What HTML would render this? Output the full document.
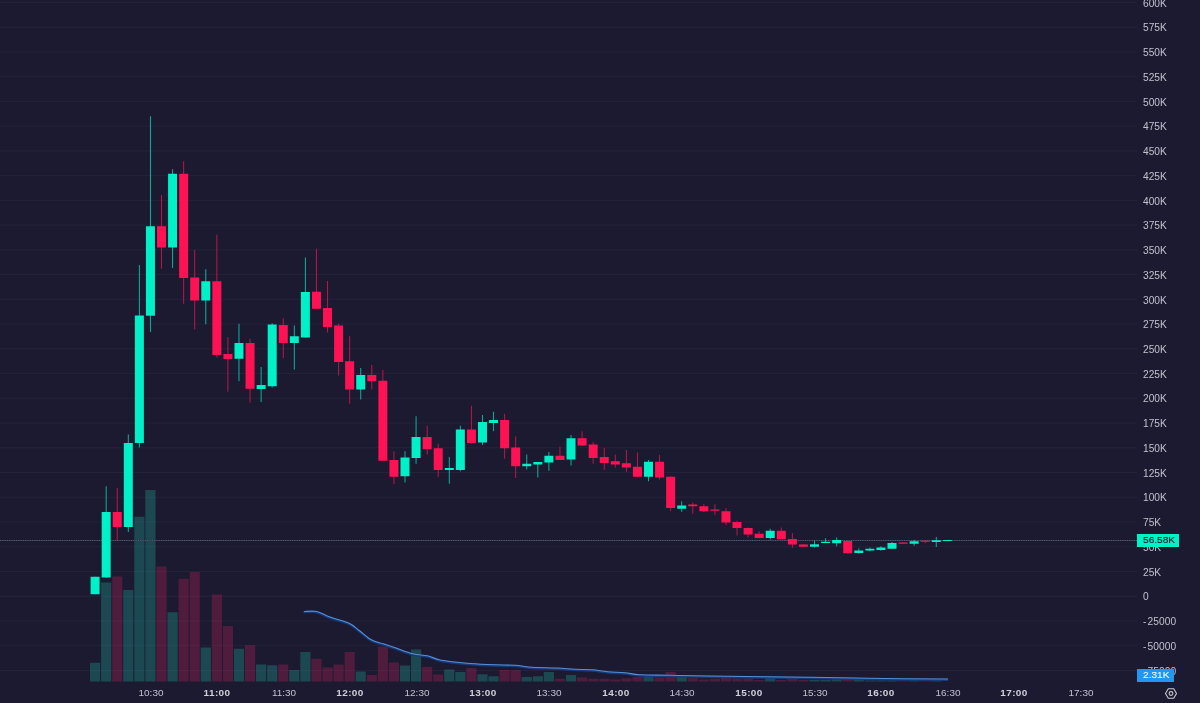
<!DOCTYPE html>
<html><head><meta charset="utf-8"><style>
html,body{margin:0;padding:0;background:#1b1a30;width:1200px;height:703px;overflow:hidden}
body{position:relative;font-family:"Liberation Sans",sans-serif}
svg{position:absolute;left:0;top:0}
.yl{position:absolute;left:1143px;font-size:10.2px;line-height:12px;color:#c0c2ce;white-space:nowrap;transform:scaleX(1.0);transform-origin:0 0;will-change:transform}
.xl{position:absolute;top:687.2px;width:60px;text-align:center;font-size:9.5px;line-height:12px;color:#c0c2ce;will-change:transform;transform:scaleX(1.05)}
.xl.b{font-weight:bold;color:#cfd0d8;letter-spacing:0.35px}
.badge{position:absolute;font-size:10px;line-height:13px;white-space:nowrap;text-align:center;will-change:transform}
</style></head><body>
<svg width="1200" height="703" viewBox="0 0 1200 703">
<rect x="0" y="595.7" width="1137" height="1" fill="#25233b"/>
<rect x="0" y="570.96" width="1137" height="1" fill="#25233b"/>
<rect x="0" y="546.22" width="1137" height="1" fill="#25233b"/>
<rect x="0" y="521.48" width="1137" height="1" fill="#25233b"/>
<rect x="0" y="496.74" width="1137" height="1" fill="#25233b"/>
<rect x="0" y="472" width="1137" height="1" fill="#25233b"/>
<rect x="0" y="447.26" width="1137" height="1" fill="#25233b"/>
<rect x="0" y="422.52" width="1137" height="1" fill="#25233b"/>
<rect x="0" y="397.78" width="1137" height="1" fill="#25233b"/>
<rect x="0" y="373.04" width="1137" height="1" fill="#25233b"/>
<rect x="0" y="348.3" width="1137" height="1" fill="#25233b"/>
<rect x="0" y="323.56" width="1137" height="1" fill="#25233b"/>
<rect x="0" y="298.82" width="1137" height="1" fill="#25233b"/>
<rect x="0" y="274.08" width="1137" height="1" fill="#25233b"/>
<rect x="0" y="249.34" width="1137" height="1" fill="#25233b"/>
<rect x="0" y="224.6" width="1137" height="1" fill="#25233b"/>
<rect x="0" y="199.86" width="1137" height="1" fill="#25233b"/>
<rect x="0" y="175.12" width="1137" height="1" fill="#25233b"/>
<rect x="0" y="150.38" width="1137" height="1" fill="#25233b"/>
<rect x="0" y="125.64" width="1137" height="1" fill="#25233b"/>
<rect x="0" y="100.9" width="1137" height="1" fill="#25233b"/>
<rect x="0" y="76.16" width="1137" height="1" fill="#25233b"/>
<rect x="0" y="51.42" width="1137" height="1" fill="#25233b"/>
<rect x="0" y="26.68" width="1137" height="1" fill="#25233b"/>
<rect x="0" y="1.94" width="1137" height="1" fill="#25233b"/>
<rect x="0" y="620.44" width="1137" height="1" fill="#25233b"/>
<rect x="0" y="645.18" width="1137" height="1" fill="#25233b"/>
<rect x="0" y="669.92" width="1137" height="1" fill="#25233b"/>
<rect x="90" y="662.75" width="10.2" height="18.75" fill="rgba(30,235,205,0.22)"/>
<rect x="101.07" y="582.5" width="10.2" height="99" fill="rgba(30,235,205,0.22)"/>
<rect x="112.14" y="576.5" width="10.2" height="105" fill="rgba(255,34,108,0.23)"/>
<rect x="123.2" y="590" width="10.2" height="91.5" fill="rgba(30,235,205,0.22)"/>
<rect x="134.27" y="516.75" width="10.2" height="164.75" fill="rgba(30,235,205,0.22)"/>
<rect x="145.34" y="490" width="10.2" height="191.5" fill="rgba(30,235,205,0.22)"/>
<rect x="156.41" y="566.5" width="10.2" height="115" fill="rgba(255,34,108,0.23)"/>
<rect x="167.48" y="612.25" width="10.2" height="69.25" fill="rgba(30,235,205,0.22)"/>
<rect x="178.54" y="578.75" width="10.2" height="102.75" fill="rgba(255,34,108,0.23)"/>
<rect x="189.61" y="572" width="10.2" height="109.5" fill="rgba(255,34,108,0.23)"/>
<rect x="200.68" y="647.5" width="10.2" height="34" fill="rgba(30,235,205,0.22)"/>
<rect x="211.75" y="594.5" width="10.2" height="87" fill="rgba(255,34,108,0.23)"/>
<rect x="222.82" y="626" width="10.2" height="55.5" fill="rgba(255,34,108,0.23)"/>
<rect x="233.88" y="648.75" width="10.2" height="32.75" fill="rgba(30,235,205,0.22)"/>
<rect x="244.95" y="645.25" width="10.2" height="36.25" fill="rgba(255,34,108,0.23)"/>
<rect x="256.02" y="664.5" width="10.2" height="17" fill="rgba(30,235,205,0.22)"/>
<rect x="267.09" y="665.25" width="10.2" height="16.25" fill="rgba(30,235,205,0.22)"/>
<rect x="278.16" y="664.5" width="10.2" height="17" fill="rgba(255,34,108,0.23)"/>
<rect x="289.22" y="670" width="10.2" height="11.5" fill="rgba(30,235,205,0.22)"/>
<rect x="300.29" y="652" width="10.2" height="29.5" fill="rgba(30,235,205,0.22)"/>
<rect x="311.36" y="658.75" width="10.2" height="22.75" fill="rgba(255,34,108,0.23)"/>
<rect x="322.43" y="667.5" width="10.2" height="14" fill="rgba(255,34,108,0.23)"/>
<rect x="333.5" y="664.5" width="10.2" height="17" fill="rgba(255,34,108,0.23)"/>
<rect x="344.56" y="652" width="10.2" height="29.5" fill="rgba(255,34,108,0.23)"/>
<rect x="355.63" y="671.5" width="10.2" height="10" fill="rgba(30,235,205,0.22)"/>
<rect x="366.7" y="675" width="10.2" height="6.5" fill="rgba(255,34,108,0.23)"/>
<rect x="377.77" y="646.5" width="10.2" height="35" fill="rgba(255,34,108,0.23)"/>
<rect x="388.84" y="662.5" width="10.2" height="19" fill="rgba(255,34,108,0.23)"/>
<rect x="399.9" y="665.5" width="10.2" height="16" fill="rgba(30,235,205,0.22)"/>
<rect x="410.97" y="649.5" width="10.2" height="32" fill="rgba(30,235,205,0.22)"/>
<rect x="422.04" y="667" width="10.2" height="14.5" fill="rgba(255,34,108,0.23)"/>
<rect x="433.11" y="674.5" width="10.2" height="7" fill="rgba(255,34,108,0.23)"/>
<rect x="444.18" y="669.5" width="10.2" height="12" fill="rgba(30,235,205,0.22)"/>
<rect x="455.24" y="672" width="10.2" height="9.5" fill="rgba(30,235,205,0.22)"/>
<rect x="466.31" y="668" width="10.2" height="13.5" fill="rgba(255,34,108,0.23)"/>
<rect x="477.38" y="674.25" width="10.2" height="7.25" fill="rgba(30,235,205,0.22)"/>
<rect x="488.45" y="676.25" width="10.2" height="5.25" fill="rgba(30,235,205,0.22)"/>
<rect x="499.52" y="670" width="10.2" height="11.5" fill="rgba(255,34,108,0.23)"/>
<rect x="510.58" y="670" width="10.2" height="11.5" fill="rgba(255,34,108,0.23)"/>
<rect x="521.65" y="677" width="10.2" height="4.5" fill="rgba(30,235,205,0.22)"/>
<rect x="532.72" y="676.25" width="10.2" height="5.25" fill="rgba(30,235,205,0.22)"/>
<rect x="543.79" y="672" width="10.2" height="9.5" fill="rgba(30,235,205,0.22)"/>
<rect x="554.86" y="678.75" width="10.2" height="2.75" fill="rgba(255,34,108,0.23)"/>
<rect x="565.92" y="675" width="10.2" height="6.5" fill="rgba(30,235,205,0.22)"/>
<rect x="576.99" y="677.5" width="10.2" height="4" fill="rgba(255,34,108,0.23)"/>
<rect x="588.06" y="678.75" width="10.2" height="2.75" fill="rgba(255,34,108,0.23)"/>
<rect x="599.13" y="678.75" width="10.2" height="2.75" fill="rgba(255,34,108,0.23)"/>
<rect x="610.2" y="679.5" width="10.2" height="2" fill="rgba(255,34,108,0.23)"/>
<rect x="621.26" y="678.25" width="10.2" height="3.25" fill="rgba(255,34,108,0.23)"/>
<rect x="632.33" y="677" width="10.2" height="4.5" fill="rgba(255,34,108,0.23)"/>
<rect x="643.4" y="676.25" width="10.2" height="5.25" fill="rgba(30,235,205,0.22)"/>
<rect x="654.47" y="677.5" width="10.2" height="4" fill="rgba(255,34,108,0.23)"/>
<rect x="665.54" y="672" width="10.2" height="9.5" fill="rgba(255,34,108,0.23)"/>
<rect x="676.6" y="675" width="10.2" height="6.5" fill="rgba(30,235,205,0.22)"/>
<rect x="687.67" y="678.25" width="10.2" height="3.25" fill="rgba(255,34,108,0.23)"/>
<rect x="698.74" y="679.5" width="10.2" height="2" fill="rgba(255,34,108,0.23)"/>
<rect x="709.81" y="678.75" width="10.2" height="2.75" fill="rgba(255,34,108,0.23)"/>
<rect x="720.88" y="678" width="10.2" height="3.5" fill="rgba(255,34,108,0.23)"/>
<rect x="731.94" y="678.75" width="10.2" height="2.75" fill="rgba(255,34,108,0.23)"/>
<rect x="743.01" y="678.25" width="10.2" height="3.25" fill="rgba(255,34,108,0.23)"/>
<rect x="754.08" y="680" width="10.2" height="1.5" fill="rgba(255,34,108,0.23)"/>
<rect x="765.15" y="677.5" width="10.2" height="4" fill="rgba(30,235,205,0.22)"/>
<rect x="776.22" y="680" width="10.2" height="1.5" fill="rgba(255,34,108,0.23)"/>
<rect x="787.28" y="678.75" width="10.2" height="2.75" fill="rgba(255,34,108,0.23)"/>
<rect x="798.35" y="680" width="10.2" height="1.5" fill="rgba(255,34,108,0.23)"/>
<rect x="809.42" y="680" width="10.2" height="1.5" fill="rgba(30,235,205,0.22)"/>
<rect x="820.49" y="680" width="10.2" height="1.5" fill="rgba(30,235,205,0.22)"/>
<rect x="831.56" y="679.5" width="10.2" height="2" fill="rgba(30,235,205,0.22)"/>
<rect x="842.62" y="679.25" width="10.2" height="2.25" fill="rgba(255,34,108,0.23)"/>
<rect x="853.69" y="680" width="10.2" height="1.5" fill="rgba(30,235,205,0.22)"/>
<rect x="864.76" y="680.5" width="10.2" height="1" fill="rgba(30,235,205,0.22)"/>
<rect x="875.83" y="680.5" width="10.2" height="1" fill="rgba(30,235,205,0.22)"/>
<rect x="886.9" y="680.5" width="10.2" height="1" fill="rgba(30,235,205,0.22)"/>
<rect x="897.96" y="680.5" width="10.2" height="1" fill="rgba(255,34,108,0.23)"/>
<rect x="909.03" y="680.5" width="10.2" height="1" fill="rgba(30,235,205,0.22)"/>
<rect x="920.1" y="680.5" width="10.2" height="1" fill="rgba(255,34,108,0.23)"/>
<rect x="931.17" y="679.25" width="10.2" height="2.25" fill="rgba(30,235,205,0.22)"/>
<line x1="0" y1="540.5" x2="1137" y2="540.5" stroke="#2e3449" stroke-width="1"/>
<line x1="0" y1="540.5" x2="1137" y2="540.5" stroke="#56627a" stroke-width="1" stroke-dasharray="1 1.3"/>
<path d="M304.4,612.4 C306.45,612.4 312.43,611.47 316.7,612.4 C320.97,613.33 324.67,616.07 330,618 C335.33,619.93 343.82,621.77 348.7,624 C353.58,626.23 355.53,628.62 359.3,631.4 C363.07,634.18 367.3,638.48 371.3,640.7 C375.3,642.92 379.3,643.37 383.3,644.7 C387.3,646.03 390.4,647.03 395.3,648.7 C400.2,650.37 407.37,653.37 412.7,654.7 C418.03,656.03 422.87,655.7 427.3,656.7 C431.73,657.7 435.1,659.7 439.3,660.7 C443.5,661.7 447.38,662.08 452.5,662.7 C457.62,663.33 462.92,663.95 470,664.45 C477.08,664.95 487.5,665.41 495,665.7 C502.5,665.99 508.75,665.78 515,666.2 C521.25,666.62 525.42,667.74 532.5,668.2 C539.58,668.66 550.42,668.62 557.5,668.95 C564.58,669.28 569.17,669.91 575,670.2 C580.83,670.49 587.08,670.28 592.5,670.7 C597.92,671.12 602.08,672.2 607.5,672.7 C612.92,673.2 619.58,673.2 625,673.7 C630.42,674.2 632.5,675.28 640,675.7 C647.5,676.12 658.33,675.99 670,676.2 C681.67,676.41 686.67,676.62 710,676.95 C733.33,677.28 780.83,677.78 810,678.2 C839.17,678.62 862.08,679.16 885,679.45 C907.92,679.74 937.08,679.87 947.5,679.95" fill="none" stroke="#163a7c" stroke-width="2.2" stroke-linecap="round"/>
<path d="M304.4,611.5 C306.45,611.5 312.43,610.57 316.7,611.5 C320.97,612.43 324.67,615.17 330,617.1 C335.33,619.03 343.82,620.87 348.7,623.1 C353.58,625.33 355.53,627.72 359.3,630.5 C363.07,633.28 367.3,637.58 371.3,639.8 C375.3,642.02 379.3,642.47 383.3,643.8 C387.3,645.13 390.4,646.13 395.3,647.8 C400.2,649.47 407.37,652.47 412.7,653.8 C418.03,655.13 422.87,654.8 427.3,655.8 C431.73,656.8 435.1,658.8 439.3,659.8 C443.5,660.8 447.38,661.17 452.5,661.8 C457.62,662.42 462.92,663.05 470,663.55 C477.08,664.05 487.5,664.51 495,664.8 C502.5,665.09 508.75,664.88 515,665.3 C521.25,665.72 525.42,666.84 532.5,667.3 C539.58,667.76 550.42,667.72 557.5,668.05 C564.58,668.38 569.17,669.01 575,669.3 C580.83,669.59 587.08,669.38 592.5,669.8 C597.92,670.22 602.08,671.3 607.5,671.8 C612.92,672.3 619.58,672.3 625,672.8 C630.42,673.3 632.5,674.38 640,674.8 C647.5,675.22 658.33,675.09 670,675.3 C681.67,675.51 686.67,675.72 710,676.05 C733.33,676.38 780.83,676.88 810,677.3 C839.17,677.72 862.08,678.26 885,678.55 C907.92,678.84 937.08,678.97 947.5,679.05" fill="none" stroke="#5790d6" stroke-width="1.1" stroke-linecap="round"/>
<rect x="94.6" y="576.75" width="1" height="17.5" fill="#00f0c8" fill-opacity="0.72"/>
<rect x="90.6" y="576.75" width="9" height="17.5" fill="#00f0c8"/>
<rect x="105.67" y="486.25" width="1" height="91.75" fill="#00f0c8" fill-opacity="0.72"/>
<rect x="101.67" y="512" width="9" height="65.5" fill="#00f0c8"/>
<rect x="116.74" y="488" width="1" height="52.5" fill="#ff1254" fill-opacity="0.72"/>
<rect x="112.74" y="512" width="9" height="15" fill="#ff1254"/>
<rect x="127.8" y="434.5" width="1" height="97.5" fill="#00f0c8" fill-opacity="0.72"/>
<rect x="123.8" y="443" width="9" height="84" fill="#00f0c8"/>
<rect x="138.87" y="265" width="1" height="182.5" fill="#00f0c8" fill-opacity="0.72"/>
<rect x="134.87" y="315.5" width="9" height="127.5" fill="#00f0c8"/>
<rect x="149.94" y="116.25" width="1" height="215.75" fill="#00f0c8" fill-opacity="0.72"/>
<rect x="145.94" y="226.25" width="9" height="89.5" fill="#00f0c8"/>
<rect x="161.01" y="195" width="1" height="73.75" fill="#ff1254" fill-opacity="0.72"/>
<rect x="157.01" y="226.25" width="9" height="21.25" fill="#ff1254"/>
<rect x="172.08" y="169.25" width="1" height="98.75" fill="#00f0c8" fill-opacity="0.72"/>
<rect x="168.08" y="173.75" width="9" height="73.75" fill="#00f0c8"/>
<rect x="183.14" y="161.25" width="1" height="142.5" fill="#ff1254" fill-opacity="0.72"/>
<rect x="179.14" y="173.75" width="9" height="104.25" fill="#ff1254"/>
<rect x="194.21" y="250" width="1" height="79.5" fill="#ff1254" fill-opacity="0.72"/>
<rect x="190.21" y="277.5" width="9" height="23" fill="#ff1254"/>
<rect x="205.28" y="269.25" width="1" height="55" fill="#00f0c8" fill-opacity="0.72"/>
<rect x="201.28" y="281.25" width="9" height="19.25" fill="#00f0c8"/>
<rect x="216.35" y="234.5" width="1" height="123" fill="#ff1254" fill-opacity="0.72"/>
<rect x="212.35" y="281.25" width="9" height="73.75" fill="#ff1254"/>
<rect x="227.42" y="337" width="1" height="54.75" fill="#ff1254" fill-opacity="0.72"/>
<rect x="223.42" y="354" width="9" height="5" fill="#ff1254"/>
<rect x="238.48" y="323.75" width="1" height="57.5" fill="#00f0c8" fill-opacity="0.72"/>
<rect x="234.48" y="343" width="9" height="15.75" fill="#00f0c8"/>
<rect x="249.55" y="338.75" width="1" height="63.75" fill="#ff1254" fill-opacity="0.72"/>
<rect x="245.55" y="343" width="9" height="45.75" fill="#ff1254"/>
<rect x="260.62" y="367" width="1" height="35" fill="#00f0c8" fill-opacity="0.72"/>
<rect x="256.62" y="385" width="9" height="4" fill="#00f0c8"/>
<rect x="271.69" y="323.25" width="1" height="64.25" fill="#00f0c8" fill-opacity="0.72"/>
<rect x="267.69" y="324.5" width="9" height="61.75" fill="#00f0c8"/>
<rect x="282.76" y="318.25" width="1" height="39.75" fill="#ff1254" fill-opacity="0.72"/>
<rect x="278.76" y="325" width="9" height="18" fill="#ff1254"/>
<rect x="293.82" y="325.5" width="1" height="44" fill="#00f0c8" fill-opacity="0.72"/>
<rect x="289.82" y="336.25" width="9" height="6.75" fill="#00f0c8"/>
<rect x="304.89" y="257.5" width="1" height="80" fill="#00f0c8" fill-opacity="0.72"/>
<rect x="300.89" y="292" width="9" height="45.5" fill="#00f0c8"/>
<rect x="315.96" y="248.75" width="1" height="60" fill="#ff1254" fill-opacity="0.72"/>
<rect x="311.96" y="291.75" width="9" height="17" fill="#ff1254"/>
<rect x="327.03" y="281" width="1" height="51.5" fill="#ff1254" fill-opacity="0.72"/>
<rect x="323.03" y="308" width="9" height="19" fill="#ff1254"/>
<rect x="338.1" y="323.75" width="1" height="51.75" fill="#ff1254" fill-opacity="0.72"/>
<rect x="334.1" y="325.5" width="9" height="36.5" fill="#ff1254"/>
<rect x="349.16" y="336.25" width="1" height="67.5" fill="#ff1254" fill-opacity="0.72"/>
<rect x="345.16" y="361.25" width="9" height="28.25" fill="#ff1254"/>
<rect x="360.23" y="368" width="1" height="31.5" fill="#00f0c8" fill-opacity="0.72"/>
<rect x="356.23" y="375" width="9" height="14.5" fill="#00f0c8"/>
<rect x="371.3" y="365" width="1" height="24.5" fill="#ff1254" fill-opacity="0.72"/>
<rect x="367.3" y="375" width="9" height="6.25" fill="#ff1254"/>
<rect x="382.37" y="370" width="1" height="90.75" fill="#ff1254" fill-opacity="0.72"/>
<rect x="378.37" y="380.75" width="9" height="80" fill="#ff1254"/>
<rect x="393.44" y="451.25" width="1" height="33" fill="#ff1254" fill-opacity="0.72"/>
<rect x="389.44" y="460" width="9" height="16.75" fill="#ff1254"/>
<rect x="404.5" y="451.25" width="1" height="31.25" fill="#00f0c8" fill-opacity="0.72"/>
<rect x="400.5" y="457.5" width="9" height="18.75" fill="#00f0c8"/>
<rect x="415.57" y="416.25" width="1" height="47.5" fill="#00f0c8" fill-opacity="0.72"/>
<rect x="411.57" y="437" width="9" height="21" fill="#00f0c8"/>
<rect x="426.64" y="425.75" width="1" height="28.75" fill="#ff1254" fill-opacity="0.72"/>
<rect x="422.64" y="437" width="9" height="12.25" fill="#ff1254"/>
<rect x="437.71" y="443.75" width="1" height="33.25" fill="#ff1254" fill-opacity="0.72"/>
<rect x="433.71" y="448.25" width="9" height="21.75" fill="#ff1254"/>
<rect x="448.78" y="457" width="1" height="26.75" fill="#00f0c8" fill-opacity="0.72"/>
<rect x="444.78" y="468" width="9" height="2" fill="#00f0c8"/>
<rect x="459.84" y="425.75" width="1" height="45.5" fill="#00f0c8" fill-opacity="0.72"/>
<rect x="455.84" y="429.5" width="9" height="40.5" fill="#00f0c8"/>
<rect x="470.91" y="405.75" width="1" height="38" fill="#ff1254" fill-opacity="0.72"/>
<rect x="466.91" y="429.5" width="9" height="13.5" fill="#ff1254"/>
<rect x="481.98" y="415" width="1" height="30" fill="#00f0c8" fill-opacity="0.72"/>
<rect x="477.98" y="422" width="9" height="20.5" fill="#00f0c8"/>
<rect x="493.05" y="411.75" width="1" height="19.5" fill="#00f0c8" fill-opacity="0.72"/>
<rect x="489.05" y="420" width="9" height="3" fill="#00f0c8"/>
<rect x="504.12" y="413.75" width="1" height="45" fill="#ff1254" fill-opacity="0.72"/>
<rect x="500.12" y="420" width="9" height="28.25" fill="#ff1254"/>
<rect x="515.18" y="436.25" width="1" height="41.75" fill="#ff1254" fill-opacity="0.72"/>
<rect x="511.18" y="447.5" width="9" height="18.75" fill="#ff1254"/>
<rect x="526.25" y="454.5" width="1" height="15" fill="#00f0c8" fill-opacity="0.72"/>
<rect x="522.25" y="463.75" width="9" height="2.5" fill="#00f0c8"/>
<rect x="537.32" y="462" width="1" height="15.5" fill="#00f0c8" fill-opacity="0.72"/>
<rect x="533.32" y="462" width="9" height="2.5" fill="#00f0c8"/>
<rect x="548.39" y="452" width="1" height="18.75" fill="#00f0c8" fill-opacity="0.72"/>
<rect x="544.39" y="455.75" width="9" height="6.75" fill="#00f0c8"/>
<rect x="559.46" y="446.75" width="1" height="13.25" fill="#ff1254" fill-opacity="0.72"/>
<rect x="555.46" y="455.75" width="9" height="4.25" fill="#ff1254"/>
<rect x="570.52" y="435" width="1" height="30.5" fill="#00f0c8" fill-opacity="0.72"/>
<rect x="566.52" y="438.25" width="9" height="21.25" fill="#00f0c8"/>
<rect x="581.59" y="431.25" width="1" height="15" fill="#ff1254" fill-opacity="0.72"/>
<rect x="577.59" y="438.25" width="9" height="7.25" fill="#ff1254"/>
<rect x="592.66" y="442" width="1" height="21.75" fill="#ff1254" fill-opacity="0.72"/>
<rect x="588.66" y="444.5" width="9" height="13.5" fill="#ff1254"/>
<rect x="603.73" y="448" width="1" height="22" fill="#ff1254" fill-opacity="0.72"/>
<rect x="599.73" y="457" width="9" height="6" fill="#ff1254"/>
<rect x="614.8" y="454.5" width="1" height="13" fill="#ff1254" fill-opacity="0.72"/>
<rect x="610.8" y="461.25" width="9" height="3.25" fill="#ff1254"/>
<rect x="625.86" y="450" width="1" height="22" fill="#ff1254" fill-opacity="0.72"/>
<rect x="621.86" y="463.25" width="9" height="4.25" fill="#ff1254"/>
<rect x="636.93" y="452.5" width="1" height="24.25" fill="#ff1254" fill-opacity="0.72"/>
<rect x="632.93" y="466.75" width="9" height="10" fill="#ff1254"/>
<rect x="648" y="460" width="1" height="21.25" fill="#00f0c8" fill-opacity="0.72"/>
<rect x="644" y="461.75" width="9" height="15" fill="#00f0c8"/>
<rect x="659.07" y="455" width="1" height="24.5" fill="#ff1254" fill-opacity="0.72"/>
<rect x="655.07" y="461.75" width="9" height="15.75" fill="#ff1254"/>
<rect x="670.14" y="476.25" width="1" height="35" fill="#ff1254" fill-opacity="0.72"/>
<rect x="666.14" y="476.75" width="9" height="31.25" fill="#ff1254"/>
<rect x="681.2" y="501.25" width="1" height="10.5" fill="#00f0c8" fill-opacity="0.72"/>
<rect x="677.2" y="505.5" width="9" height="3.25" fill="#00f0c8"/>
<rect x="692.27" y="502.5" width="1" height="11.25" fill="#ff1254" fill-opacity="0.72"/>
<rect x="688.27" y="504.5" width="9" height="1.75" fill="#ff1254"/>
<rect x="703.34" y="504.25" width="1" height="7.75" fill="#ff1254" fill-opacity="0.72"/>
<rect x="699.34" y="506.25" width="9" height="5" fill="#ff1254"/>
<rect x="714.41" y="504.25" width="1" height="10.75" fill="#ff1254" fill-opacity="0.72"/>
<rect x="710.41" y="509.5" width="9" height="1.25" fill="#ff1254"/>
<rect x="725.48" y="508.25" width="1" height="16.75" fill="#ff1254" fill-opacity="0.72"/>
<rect x="721.48" y="511.25" width="9" height="11.25" fill="#ff1254"/>
<rect x="736.54" y="520.75" width="1" height="14.75" fill="#ff1254" fill-opacity="0.72"/>
<rect x="732.54" y="522" width="9" height="6" fill="#ff1254"/>
<rect x="747.61" y="527.5" width="1" height="10" fill="#ff1254" fill-opacity="0.72"/>
<rect x="743.61" y="528" width="9" height="6.5" fill="#ff1254"/>
<rect x="758.68" y="531.25" width="1" height="7" fill="#ff1254" fill-opacity="0.72"/>
<rect x="754.68" y="533.75" width="9" height="4.25" fill="#ff1254"/>
<rect x="769.75" y="528.75" width="1" height="10.75" fill="#00f0c8" fill-opacity="0.72"/>
<rect x="765.75" y="530.75" width="9" height="7.25" fill="#00f0c8"/>
<rect x="780.82" y="527.5" width="1" height="11.75" fill="#ff1254" fill-opacity="0.72"/>
<rect x="776.82" y="530.75" width="9" height="8.5" fill="#ff1254"/>
<rect x="791.88" y="533" width="1" height="15" fill="#ff1254" fill-opacity="0.72"/>
<rect x="787.88" y="539" width="9" height="5.5" fill="#ff1254"/>
<rect x="802.95" y="544" width="1" height="2.75" fill="#ff1254" fill-opacity="0.72"/>
<rect x="798.95" y="544.5" width="9" height="2.25" fill="#ff1254"/>
<rect x="814.02" y="540.75" width="1" height="6.75" fill="#00f0c8" fill-opacity="0.72"/>
<rect x="810.02" y="544.3" width="9" height="2.45" fill="#00f0c8"/>
<rect x="825.09" y="538.25" width="1" height="4.75" fill="#00f0c8" fill-opacity="0.72"/>
<rect x="821.09" y="541.75" width="9" height="1.25" fill="#00f0c8"/>
<rect x="836.16" y="537.5" width="1" height="8.75" fill="#00f0c8" fill-opacity="0.72"/>
<rect x="832.16" y="540" width="9" height="3.25" fill="#00f0c8"/>
<rect x="847.22" y="540.5" width="1" height="13.25" fill="#ff1254" fill-opacity="0.72"/>
<rect x="843.22" y="541" width="9" height="12.25" fill="#ff1254"/>
<rect x="858.29" y="548.25" width="1" height="5.5" fill="#00f0c8" fill-opacity="0.72"/>
<rect x="854.29" y="550.5" width="9" height="2.5" fill="#00f0c8"/>
<rect x="869.36" y="547.5" width="1" height="3.75" fill="#00f0c8" fill-opacity="0.72"/>
<rect x="865.36" y="548.75" width="9" height="1.75" fill="#00f0c8"/>
<rect x="880.43" y="546.25" width="1" height="4.5" fill="#00f0c8" fill-opacity="0.72"/>
<rect x="876.43" y="547.5" width="9" height="2.5" fill="#00f0c8"/>
<rect x="891.5" y="542" width="1" height="7" fill="#00f0c8" fill-opacity="0.72"/>
<rect x="887.5" y="543" width="9" height="5.75" fill="#00f0c8"/>
<rect x="902.56" y="542.5" width="1" height="1.25" fill="#ff1254" fill-opacity="0.72"/>
<rect x="898.56" y="542.5" width="9" height="1.25" fill="#ff1254"/>
<rect x="913.63" y="540" width="1" height="5.75" fill="#00f0c8" fill-opacity="0.72"/>
<rect x="909.63" y="541.25" width="9" height="2.5" fill="#00f0c8"/>
<rect x="924.7" y="540" width="1" height="3.25" fill="#ff1254" fill-opacity="0.72"/>
<rect x="920.7" y="540.75" width="9" height="1" fill="#ff1254"/>
<rect x="935.77" y="537" width="1" height="10" fill="#00f0c8" fill-opacity="0.72"/>
<rect x="931.77" y="540.25" width="9" height="1.75" fill="#00f0c8"/>
<rect x="946.84" y="540" width="1" height="1" fill="#00f0c8" fill-opacity="0.72"/>
<rect x="942.84" y="540" width="9" height="1" fill="#00f0c8"/>
</svg>
<div class="yl" style="top:-2.36px">600K</div><div class="yl" style="top:22.38px">575K</div><div class="yl" style="top:47.12px">550K</div><div class="yl" style="top:71.86px">525K</div><div class="yl" style="top:96.6px">500K</div><div class="yl" style="top:121.34px">475K</div><div class="yl" style="top:146.08px">450K</div><div class="yl" style="top:170.82px">425K</div><div class="yl" style="top:195.56px">400K</div><div class="yl" style="top:220.3px">375K</div><div class="yl" style="top:245.04px">350K</div><div class="yl" style="top:269.78px">325K</div><div class="yl" style="top:294.52px">300K</div><div class="yl" style="top:319.26px">275K</div><div class="yl" style="top:344px">250K</div><div class="yl" style="top:368.74px">225K</div><div class="yl" style="top:393.48px">200K</div><div class="yl" style="top:418.22px">175K</div><div class="yl" style="top:442.96px">150K</div><div class="yl" style="top:467.7px">125K</div><div class="yl" style="top:492.44px">100K</div><div class="yl" style="top:517.18px">75K</div><div class="yl" style="top:541.92px">50K</div><div class="yl" style="top:566.66px">25K</div><div class="yl" style="top:591.4px">0</div><div class="yl" style="top:616.14px;letter-spacing:0.12px"><span style="margin-right:0.9px">-</span>25000</div><div class="yl" style="top:640.88px;letter-spacing:0.12px"><span style="margin-right:0.9px">-</span>50000</div><div class="yl" style="top:665.62px;letter-spacing:0.12px"><span style="margin-right:0.9px">-</span>75000</div>
<div class="xl" style="left:120.94px">10:30</div><div class="xl b" style="left:187.35px">11:00</div><div class="xl" style="left:253.76px">11:30</div><div class="xl b" style="left:320.16px">12:00</div><div class="xl" style="left:386.57px">12:30</div><div class="xl b" style="left:452.98px">13:00</div><div class="xl" style="left:519.39px">13:30</div><div class="xl b" style="left:585.8px">14:00</div><div class="xl" style="left:652.2px">14:30</div><div class="xl b" style="left:718.61px">15:00</div><div class="xl" style="left:785.02px">15:30</div><div class="xl b" style="left:851.43px">16:00</div><div class="xl" style="left:917.84px">16:30</div><div class="xl b" style="left:984.24px">17:00</div><div class="xl" style="left:1050.65px">17:30</div>
<div class="badge" style="left:1137px;top:534px;width:42px;height:13px;background:#00f0c8"><span style="position:absolute;left:6.3px;top:1.9px;font-size:9.3px;line-height:9px;color:#0f1a26;transform:scaleX(1.09);transform-origin:0 0;-webkit-text-stroke:0.12px #0f1a26">56.58K</span></div>
<div class="badge" style="left:1137px;top:669px;width:37px;height:13px;background:#2196f3"><span style="position:absolute;left:6.3px;top:1.9px;font-size:9.3px;line-height:9px;color:#f4f8ff;transform:scaleX(1.09);transform-origin:0 0;-webkit-text-stroke:0.1px #f4f8ff">2.31K</span></div>
<svg width="14" height="13" viewBox="0 0 14 13" style="left:1164px;top:687px">
<polygon points="1.5,6.5 4.3,1.8 9.7,1.8 12.5,6.5 9.7,11.2 4.3,11.2" fill="none" stroke="#c8c9d2" stroke-width="1.1"/>
<circle cx="7" cy="6.5" r="1.9" fill="none" stroke="#c8c9d2" stroke-width="1.1"/>
</svg>
</body></html>
